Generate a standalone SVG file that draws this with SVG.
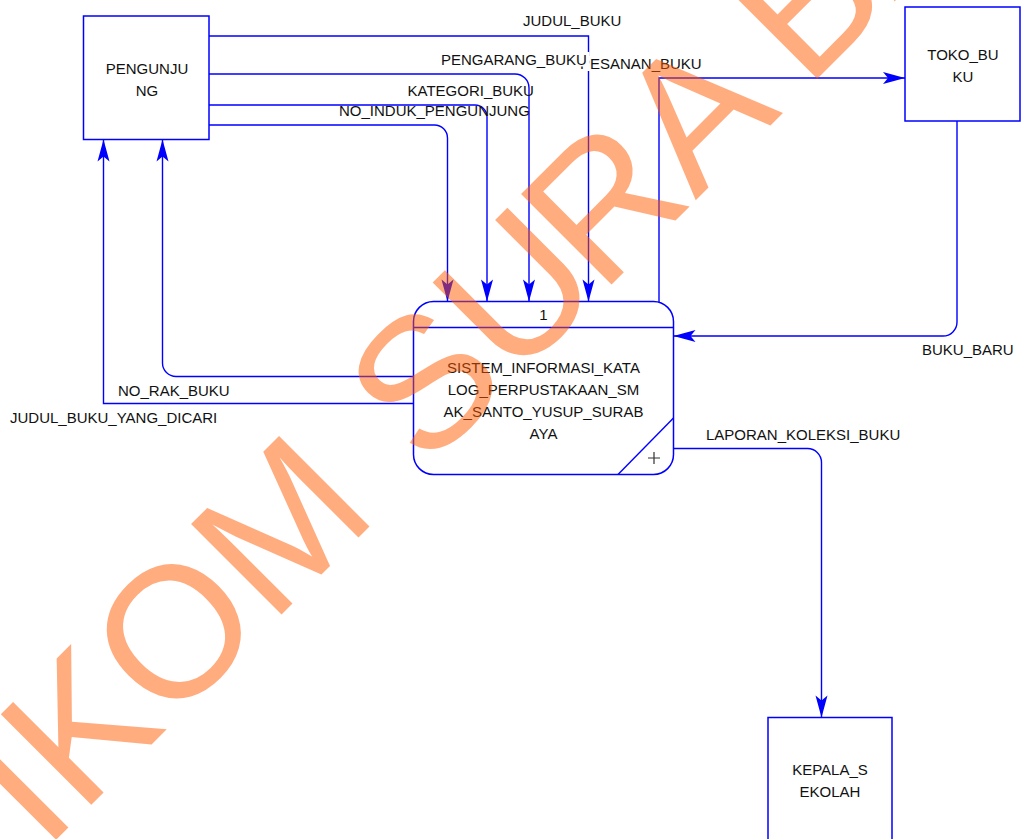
<svg xmlns="http://www.w3.org/2000/svg" width="1022" height="839" viewBox="0 0 1022 839">
<style>
.n{fill:#fff;stroke:#0000FF;stroke-width:1.5}
.c{fill:none;stroke:#0000FF;stroke-width:1.4;marker-end:url(#arr)}
.t{font-family:"Liberation Sans",Arial,sans-serif;font-size:15px;fill:#111}
.m{text-anchor:middle}
.bg{fill:#fff}
.wm{font-family:"Liberation Sans",Arial,sans-serif;font-size:186px;fill:#FF5A00;fill-opacity:0.5}
</style>
<defs>
<marker id="arr" markerUnits="userSpaceOnUse" markerWidth="26" markerHeight="14" viewBox="-24 -7 26 14" refX="0" refY="0" orient="auto">
<path d="M0,0 L-22,-6 L-17,0 L-22,6 Z" fill="#0000FF"/>
</marker>
</defs>
<rect width="1022" height="839" fill="#fff"/>

<g id="connectors">
<path class="c" d="M209,36 H588.5 V301.5"/>
<path class="c" d="M209,74 H515 A14,14 0 0 1 529,88 V301.5"/>
<path class="c" d="M209,105 H475 A12,12 0 0 1 487,117 V301.5"/>
<path class="c" d="M209,125 H434.5 A13,13 0 0 1 447.5,138 V301.5"/>
<path class="c" d="M413.5,376.5 H176 A13.5,13.5 0 0 1 162.5,363 V139.5"/>
<path class="c" d="M413.5,403.5 H103.5 V139.5"/>
<path class="c" d="M659,302 V78 H905"/>
<path class="c" d="M957,121 V322 A14,14 0 0 1 943,336 H673.5"/>
<path class="c" d="M673.5,448.5 H807 A14,14 0 0 1 821.5,462.5 V717.5"/>
</g>

<g id="labels">
<text class="t" x="523" y="26">JUDUL_BUKU</text>
<rect class="bg" x="579" y="56" width="128" height="15"/>
<text class="t" x="580" y="69">PESANAN_BUKU</text>
<rect class="bg" x="440" y="52" width="149.5" height="14.5"/>
<text class="t" x="441" y="64.5">PENGARANG_BUKU</text>
<text class="t" x="407.5" y="96">KATEGORI_BUKU</text>
<text class="t" x="339" y="116">NO_INDUK_PENGUNJUNG</text>
<text class="t" x="118" y="396">NO_RAK_BUKU</text>
<text class="t" x="10" y="422.5">JUDUL_BUKU_YANG_DICARI</text>
<text class="t" x="922" y="355">BUKU_BARU</text>
<text class="t" x="706" y="440">LAPORAN_KOLEKSI_BUKU</text>
</g>

<g id="pengunjung">
<rect class="n" x="83.5" y="16" width="125.5" height="123.5"/>
<text class="t m" x="147" y="74">PENGUNJU</text>
<text class="t m" x="147" y="96">NG</text>
</g>

<g id="toko_buku">
<rect class="n" x="905" y="7" width="115" height="114"/>
<text class="t m" x="963" y="60">TOKO_BU</text>
<text class="t m" x="963" y="82">KU</text>
</g>

<g id="kepala_sekolah">
<rect class="n" x="768" y="717.5" width="124" height="140"/>
<text class="t m" x="830" y="775">KEPALA_S</text>
<text class="t m" x="830" y="797">EKOLAH</text>
</g>

<g id="process_1">
<rect class="n" x="413.5" y="301.5" width="260" height="173" rx="20" ry="20"/>
<line x1="413.5" y1="327.5" x2="673.5" y2="327.5" stroke="#0000FF" stroke-width="1.4"/>
<line x1="618" y1="474.5" x2="673.5" y2="418" stroke="#0000FF" stroke-width="1.4"/>
<path d="M648,458 H660 M654,452 V464" stroke="#333" stroke-width="1.2" fill="none"/>
<text class="t m" x="543.5" y="320">1</text>
<text class="t m" x="543.5" y="373">SISTEM_INFORMASI_KATA</text>
<text class="t m" x="543.5" y="395">LOG_PERPUSTAKAAN_SM</text>
<text class="t m" x="543.5" y="417">AK_SANTO_YUSUP_SURAB</text>
<text class="t m" x="543.5" y="439">AYA</text>
</g>

<g id="watermark">
<text class="wm" x="-124" y="1020" transform="rotate(-45 -124 1020)">STIKOM <tspan x="653 777 901 1035 1192 1316">SURAB</tspan>AYA</text>
</g>
</svg>
